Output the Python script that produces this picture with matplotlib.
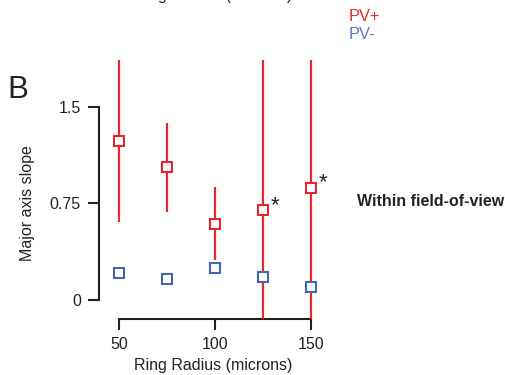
import matplotlib
matplotlib.use("Agg")
import matplotlib.pyplot as plt
import numpy as np

plt.rcParams["font.family"] = ["Liberation Sans", "DejaVu Sans"]

RED = "#e8262d"
BLUE = "#4466b0"
BLUE_TEXT = "#5a7ac6"
INK = "#222222"

# Data
radius = [50, 75, 100, 125, 150]
pv_pos = [1.238, 1.031, 0.593, 0.697, 0.873]
pv_pos_low = [0.609, 0.686, 0.311, -0.6, -0.6]
pv_pos_high = [2.2, 1.378, 0.876, 2.2, 2.2]
pv_neg = [0.212, 0.166, 0.251, 0.176, 0.101]
pv_neg_err = [0.01, 0.045, 0.01, 0.01, 0.01]
starred = [125, 150]

yticks = [0, 0.75, 1.5]
yticklabels = ["0", "0.75", "1.5"]
xticks = [50, 100, 150]

fig = plt.figure(figsize=(5.06, 3.75), dpi=100)
ax = fig.add_axes([99 / 506, 56 / 375, 231 / 506, 259 / 375])

pos = np.array(pv_pos)
yerr = [pos - np.array(pv_pos_low), np.array(pv_pos_high) - pos]
ax.errorbar(radius, pv_pos, yerr=yerr, fmt="s", color=RED, ecolor=RED,
            elinewidth=1.6, capsize=0, markersize=7.2, markerfacecolor="white",
            markeredgecolor=RED, markeredgewidth=1.5, zorder=3)
ax.errorbar(radius, pv_neg, yerr=pv_neg_err, fmt="s", color=BLUE, ecolor=BLUE,
            elinewidth=1.2, capsize=0, markersize=7.2, markerfacecolor="white",
            markeredgecolor=BLUE, markeredgewidth=1.5, zorder=3)

for r in starred:
    ax.annotate("*", xy=(r, pv_pos[radius.index(r)]), xytext=(5.5, -4),
                textcoords="offset points", ha="left", va="bottom",
                fontsize=16, color=INK, annotation_clip=False)

ax.set_xlim(39.6, 160)
ax.set_ylim(-0.148, 1.865)
for side in ["top", "right"]:
    ax.spines[side].set_visible(False)
ax.spines["left"].set_bounds(0, 1.5)
ax.spines["bottom"].set_bounds(50, 150)
for side in ["left", "bottom"]:
    ax.spines[side].set_linewidth(1.5)
    ax.spines[side].set_color(INK)

ax.set_yticks(yticks)
ax.set_yticklabels(yticklabels)
ax.set_xticks(xticks)
ax.tick_params(axis="both", length=8, width=1.5, color=INK, labelsize=11.5,
               labelcolor=INK, pad=5)

ax.set_ylabel("Major axis slope", fontsize=11.5, color=INK)
ax.yaxis.set_label_coords(-0.275, 0.448)
ax.set_xlabel("Ring Radius (microns)", fontsize=11.5, color=INK)
ax.xaxis.set_label_coords(0.496, -0.15)

# Cut-off label from the panel above
fig.text(213.5 / 506, 1.0, "Ring Radius (microns)", ha="center", va="baseline",
         fontsize=11.5, color=INK)
fig.text(7 / 506, 1 - 98 / 375, "B", ha="left", va="baseline", fontsize=22.5, color=INK)
fig.text(349 / 506, 1 - 16.5 / 375, "PV+", ha="left", va="center", fontsize=11.8, color=RED)
fig.text(349 / 506, 1 - 34.5 / 375, "PV-", ha="left", va="center", fontsize=11.8, color=BLUE_TEXT)
fig.text(504 / 506, 1 - 201.5 / 375, "Within field-of-view", ha="right", va="center",
         fontsize=11.5, fontweight="bold", color=INK)

fig.savefig("out.png", dpi=100)
